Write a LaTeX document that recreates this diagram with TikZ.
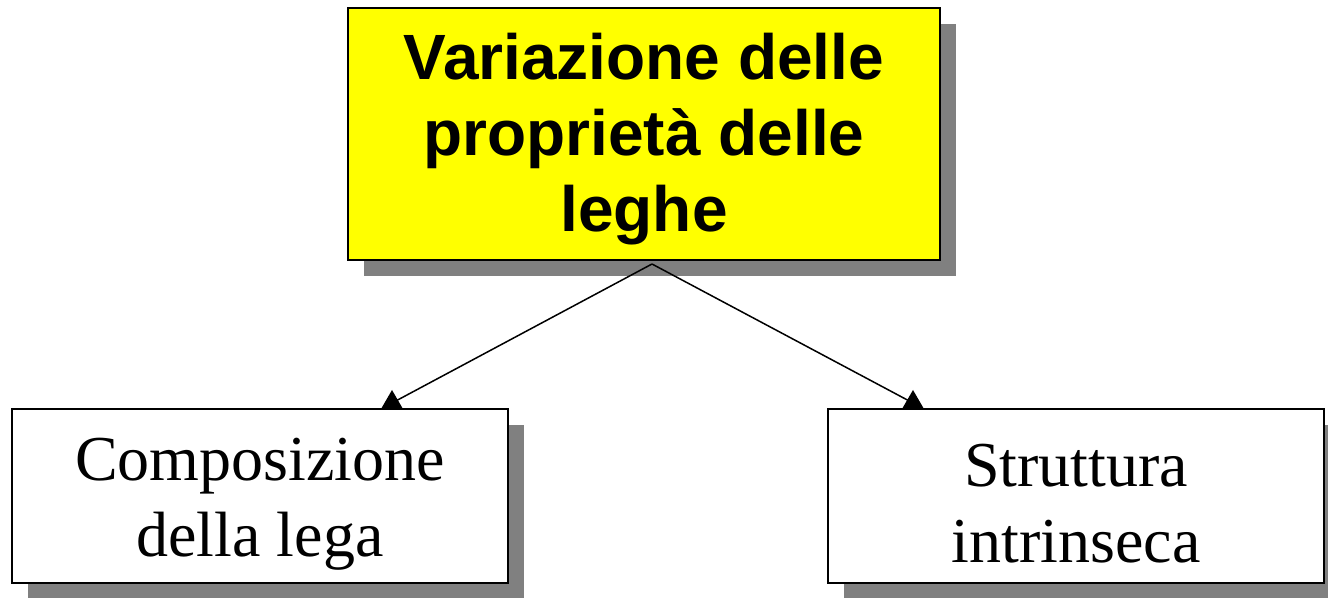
\documentclass[tikz,border=0pt]{standalone}
\usepackage{fontspec}
\setmainfont{Liberation Serif}
\newfontfamily\headfont{Liberation Sans}
\usepackage{tikz}
\usetikzlibrary{shadows}

\definecolor{shadowgray}{RGB}{128,128,128}
\definecolor{headyellow}{RGB}{255,255,0}

\begin{document}
\begin{tikzpicture}[x=0.5pt, y=-0.5pt,
    box/.style={draw, line width=1pt, fill=white,
        drop shadow={shadow xshift=7.8pt, shadow yshift=-7.8pt, fill=shadowgray, opacity=1}},
    sub/.style={box, minimum width=248pt, minimum height=87pt},
    subtext/.style={align=center, font=\fontsize{32}{38}\selectfont},
    link/.style={line width=0.75pt}]
    \useasboundingbox (0, 0) rectangle (1328, 598);

    % top box
    \node[box, fill=headyellow, minimum width=296pt, minimum height=126pt] (lega) at (644, 134) {};
    \node[align=center, font=\headfont\bfseries\fontsize{32}{38}\selectfont] (legaText)
        at ([yshift=-2.5pt]lega.center) {Variazione delle\\proprietà delle\\leghe};

    % bottom boxes
    \node[sub] (comp) at (260, 496) {};
    \node[subtext] (compText) at ([yshift=-4pt]comp.center) {Composizione\\della lega};
    \node[sub] (strut) at (1076, 496) {};
    \node[subtext] (strutText) at ([yshift=-4pt]strut.center) {Struttura\\intrinseca};

    \coordinate (split) at (652, 264);
    \coordinate (headL) at (392, 409); % on top of comp
    \coordinate (headR) at (913, 409); % on top of strut

    \draw[link] (split) -- ([yshift=3pt]headL);
    \draw[link] (split) -- ([yshift=3pt]headR);
    % heads
    \fill (headL) ++(-11, 0) -- ++(22, 0) -- ++(-11, -19) -- cycle;
    \fill (headR) ++(-11, 0) -- ++(22, 0) -- ++(-11, -19) -- cycle;
\end{tikzpicture}
\end{document}
